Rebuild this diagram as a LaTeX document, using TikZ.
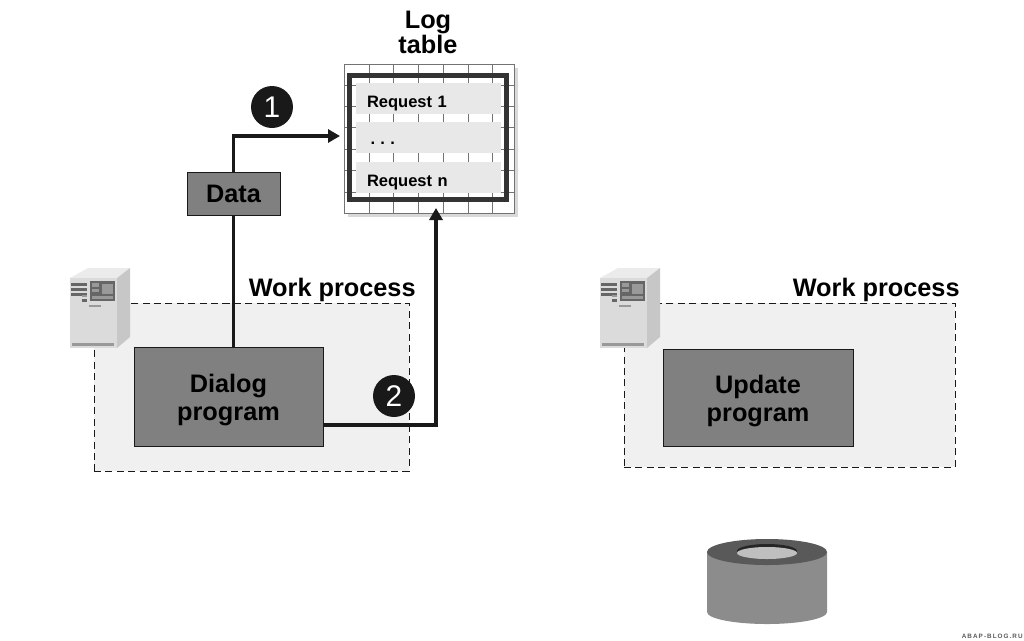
\documentclass[tikz,border=0pt]{standalone}
\usepackage{fontspec}
\setmainfont{Liberation Sans}
\usetikzlibrary{arrows.meta}
\definecolor{boxgray}{gray}{0.5}
\definecolor{wpgray}{gray}{0.94}
\definecolor{linedark}{gray}{0.1}
\definecolor{gridgray}{gray}{0.45}
\definecolor{bandgray}{gray}{0.91}
\newcommand{\progstrut}{\rule{0pt}{14.5pt}}
\tikzset{
  prog/.style={draw=linedark, fill=boxgray, inner sep=0pt, align=center, font=\fontsize{14.4}{16.2}\selectfont\bfseries},
  wpbox/.style={draw=linedark, dash pattern=on 4pt off 2.5pt, fill=wpgray, inner sep=0pt},
  wplabel/.style={inner sep=0pt, font=\fontsize{14.4}{18}\selectfont\bfseries},
  band/.style={fill=bandgray, inner xsep=0.22cm, inner ysep=0pt, minimum width=2.9cm, minimum height=0.62cm, text width=2.46cm, text height=10.2pt, text depth=0pt, align=left, font=\fontsize{9.4}{11}\selectfont\bfseries},
  stepdot/.style={circle, fill=linedark, text=white, inner sep=0pt, minimum size=0.84cm, font=\fontsize{17}{17}\selectfont},
  flow/.style={draw=linedark, line width=0.07cm},
  flowarrow/.style={flow, -{Triangle[length=0.24cm, width=0.26cm]}},
}
\begin{document}
\begin{tikzpicture}[x=0.02cm, y=-0.02cm]
  \useasboundingbox (0,0) rectangle (1024,640);
  % work processes
  \node[wpbox, minimum width=6.3cm, minimum height=3.36cm] (wpleft) at (251.5,387) {};
  \node[wpbox, minimum width=6.62cm, minimum height=3.28cm] (wpright) at (789.5,385) {};
  \node[wplabel, anchor=base east] (wpleftlabel) at (416,296) {Work process};
  \node[wplabel, anchor=base east] (wprightlabel) at (960,296) {Work process};
  % servers
  \foreach \sx in {0,530} {
    \fill[black!8] (70+\sx,278) -- (88+\sx,268) -- (130+\sx,268) -- (117+\sx,278) -- cycle;
    \fill[black!22] (117+\sx,278) -- (130+\sx,268) -- (130+\sx,337) -- (117+\sx,348) -- cycle;
    \fill[black!14] (70+\sx,278) rectangle (117+\sx,348);
    \fill[black!60] (90+\sx,281) rectangle (115+\sx,301);
    \fill[black!40] (92+\sx,283) rectangle (99+\sx,287);
    \fill[black!40] (92+\sx,289) rectangle (99+\sx,292);
    \fill[black!40] (102+\sx,284) rectangle (113+\sx,294);
    \fill[black!40] (92+\sx,296) rectangle (113+\sx,299);
    \foreach \sy in {283,288,293}
      \fill[black!60] (71+\sx,\sy) rectangle (87+\sx,\sy+3);
    \fill[black!40] (82+\sx,295) rectangle (87+\sx,297);
    \fill[black!60] (82+\sx,299) rectangle (87+\sx,302);
    \fill[black!40] (89+\sx,305) rectangle (101+\sx,307);
    \fill[black!40] (72+\sx,343) rectangle (114+\sx,346);
  }
  % programs
  \node[prog, minimum width=3.78cm, minimum height=1.98cm] (dialog) at (228.5,396.5) {\progstrut Dialog\\program};
  \node[prog, minimum width=3.8cm, minimum height=1.94cm] (update) at (758,397.5) {\progstrut Update\\program};
  \node[prog, minimum width=1.86cm, minimum height=0.86cm] (data) at (233.5,193.5) {Data};
  % log table
  \fill[gray!30] (348,68) rectangle (518,217);
  \node[draw=gridgray, fill=white, inner sep=0pt, minimum width=3.4cm, minimum height=2.98cm] (logtable) at (429,138.5) {};
  \foreach \gx in {369,393,418,443,468,492}
    \draw[gridgray] (\gx,64) -- (\gx,213);
  \foreach \gy in {85,106,127,149,170,192}
    \draw[gridgray] (344,\gy) -- (514,\gy);
  \node[band] (req1) at (428.5,98.5) {Request 1};
  \node[band, text height=8.5pt] (reqdots) at (428.5,137.5) {\hspace*{2pt}.\hspace{3pt}.\hspace{3pt}.};
  \node[band] (reqn) at (428.5,177.5) {Request n};
  \draw[draw=gray!40!black, line width=0.1cm] (349,75.5) rectangle (506,199.5);
  \node[font=\fontsize{14.4}{14.2}\selectfont\bfseries, align=center, inner sep=0pt] (logtitle) at (428,32) {Log\\table};
  % connectors
  \coordinate (login) at (340,136);
  \coordinate (logbottom) at (436,208);
  \draw[flow] (dialog.north -| data.south) -- (data.south);
  \draw[flowarrow] (data.north) |- (login);
  \draw[flowarrow] (dialog.east |- 0,425) -| (logbottom);
  \node[stepdot] (stepone) at (272,107) {1};
  \node[stepdot] (steptwo) at (394,396) {2};
  % disk
  \fill[black!45] (707,552) -- (707,612) arc[start angle=180, end angle=0, x radius=60, y radius=12] -- (827,552) -- cycle;
  \fill[black!65] (767,552) ellipse[x radius=60, y radius=13];
  \fill[black!85] (767,551) ellipse[x radius=30, y radius=7];
  \fill[black!25] (767,553) ellipse[x radius=30, y radius=6];
  \node[anchor=east, inner sep=0pt, text=gray!70!black, font=\fontsize{3.6}{4}\selectfont\bfseries] (mark) at (1023,636) {A\,B\,A\,P\,-\,B\,L\,O\,G\,.\,R\,U};
\end{tikzpicture}
\end{document}
